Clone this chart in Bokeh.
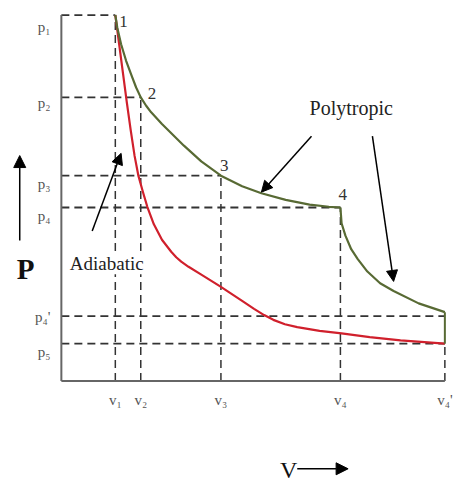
from bokeh.plotting import figure
from bokeh.models import Range1d, ColumnDataSource, Label, Arrow, NormalHead
from bokeh.embed import file_html
from bokeh.resources import INLINE
from bokeh.core.properties import value

# ---- data ----
V1, V2, V3, V4, V4P = 1.40, 2.06, 4.14, 7.24, 9.95
P1, P2, P3, P4, P4P, P5 = 10.0, 7.75, 5.61, 4.74, 1.77, 1.02

v_ticks = [V1, V2, V3, V4, V4P]
v_labels = ["v₁", "v₂", "v₃", "v₄", "v₄'"]
p_ticks = [P1, P2, P3, P4, P4P, P5]
p_labels = ["p₁", "p₂", "p₃", "p₄", "p₄'", "p₅"]

# polytropic 1 -> 2 -> 3 -> 4
poly1_v = [1.40, 1.45, 1.55, 1.68, 1.82, 1.94, 2.06, 2.20, 2.33, 2.61, 3.18, 3.63, 4.14, 4.69, 5.19, 5.82, 6.44, 6.94, 7.24]
poly1_p = [10.0, 9.66, 9.20, 8.75, 8.35, 8.02, 7.75, 7.52, 7.34, 7.02, 6.43, 6.00, 5.61, 5.32, 5.13, 4.95, 4.82, 4.76, 4.74]
# polytropic 4 -> 4'
poly2_v = [7.24, 7.27, 7.37, 7.52, 7.69, 7.94, 8.27, 8.62, 9.27, 9.95]
poly2_p = [4.74, 4.31, 3.97, 3.60, 3.33, 2.99, 2.67, 2.46, 2.12, 1.88]
# constant volume drop 4' -> 5
drop_v = [V4P, V4P]
drop_p = [1.88, P5]
# adiabatic 1 -> 5
adia_v = [1.40, 1.50, 1.60, 1.70, 1.80, 1.90, 2.00, 2.12, 2.23, 2.40, 2.61, 2.85, 2.98, 3.11, 3.30, 3.61, 4.11, 4.69, 5.00, 5.26, 5.50, 5.80, 6.12, 6.70, 7.27, 8.00, 8.80, 9.95]
adia_p = [10.0, 9.20, 8.40, 7.60, 6.85, 6.15, 5.60, 5.15, 4.76, 4.28, 3.86, 3.53, 3.38, 3.26, 3.12, 2.92, 2.59, 2.19, 1.97, 1.80, 1.67, 1.55, 1.47, 1.37, 1.30, 1.20, 1.11, 1.02]

state_v = [V1, V2, V3, V4]
state_p = [P1, P2, P3, P4]
state_names = ["1", "2", "3", "4"]

# ---- styles ----
GREEN = "#586a34"
RED = "#d0202c"
DASH = "#333333"
AXIS = "#666666"
SERIF = "Liberation Serif"

p = figure(width=454, height=486, output_backend="svg", toolbar_location=None,
           x_range=Range1d(-1.579, 10.20), y_range=Range1d(-2.884, 10.397),
           x_axis_location=None, y_axis_location=None,
           min_border=0, min_border_left=0, min_border_right=0,
           min_border_top=0, min_border_bottom=0)
p.outline_line_color = None
p.grid.visible = False
p.background_fill_color = "white"

# dashed guide lines
h_end = [V1, V2, V3, V4, V4P, V4P]
p.segment(x0=[0] * len(p_ticks), y0=p_ticks, x1=h_end, y1=p_ticks,
          line_color=DASH, line_width=1.8, line_dash="8 5")
v_top = [P1, P2, P3, P4, P5]
p.segment(x0=v_ticks, y0=[0] * len(v_ticks), x1=v_ticks, y1=v_top,
          line_color=DASH, line_width=1.5, line_dash="8 5")

# axes lines
p.segment(x0=[0, 0], y0=[0, 0], x1=[0, V4P], y1=[P1, 0], line_color=AXIS, line_width=2)

# tick labels
ysrc = ColumnDataSource(dict(x=[0] * len(p_ticks), y=p_ticks, t=p_labels,
                             yo=[12, 6, 8, 8, 1, 8]))
p.text(x="x", y="y", text="t", y_offset="yo", x_offset=-11, source=ysrc,
       text_font=value(SERIF), text_font_size="15px", text_color="#555555",
       text_align="right", text_baseline="alphabetic")
xsrc = ColumnDataSource(dict(x=v_ticks, y=[0] * len(v_ticks), t=v_labels))
p.text(x="x", y="y", text="t", y_offset=11, source=xsrc,
       text_font=value(SERIF), text_font_size="15px", text_color="#555555",
       text_align="center", text_baseline="top")

# curves
p.line(adia_v, adia_p, line_color=RED, line_width=2.2, line_join="round")
p.line(poly1_v, poly1_p, line_color=GREEN, line_width=2.2, line_join="round")
p.line(poly2_v, poly2_p, line_color=GREEN, line_width=2.2, line_join="round")
p.line(drop_v, drop_p, line_color=GREEN, line_width=2.0)

# state point labels
src = ColumnDataSource(dict(x=state_v, y=state_p, t=state_names,
                            xo=[4, 7, -1, -2], yo=[1, -9, -16, -19]))
p.text(x="x", y="y", text="t", x_offset="xo", y_offset="yo", source=src,
       text_font=value(SERIF), text_font_size="17px", text_color="#333333",
       text_align="left", text_baseline="top")

# annotations
p.add_layout(Label(x=7.52, y=7.46, text="Polytropic", text_font=SERIF, text_font_size="20px",
                   text_color="#222222", text_align="center", text_baseline="alphabetic"))
p.add_layout(Label(x=0.22, y=3.20, text="Adiabatic", text_font=SERIF, text_font_size="19px",
                   text_color="#222222", text_align="left", text_baseline="alphabetic",
                   background_fill_color="white"))
p.add_layout(Label(x=-0.93, y=3.07, text="P", text_font=SERIF, text_font_size="29px",
                   text_font_style="bold", text_color="#111111", text_align="center",
                   text_baseline="middle"))
p.add_layout(Label(x=5.90, y=-2.42, text="V", text_font=SERIF, text_font_size="24px",
                   text_color="#111111", text_align="center", text_baseline="middle"))

def arrow(xs, ys, xe, ye, size=11):
    p.add_layout(Arrow(end=NormalHead(size=size, fill_color="black", line_color="black"),
                       x_start=xs, y_start=ys, x_end=xe, y_end=ye,
                       line_color="black", line_width=1.5))

arrow(0.80, 4.10, 1.55, 6.22)
arrow(6.49, 6.69, 5.19, 5.16)
arrow(8.07, 6.69, 8.62, 2.72)
arrow(-1.08, 3.84, -1.08, 6.16, 12)
arrow(6.12, -2.40, 7.44, -2.40, 12)

open("out.html", "w").write(file_html(p, INLINE))
